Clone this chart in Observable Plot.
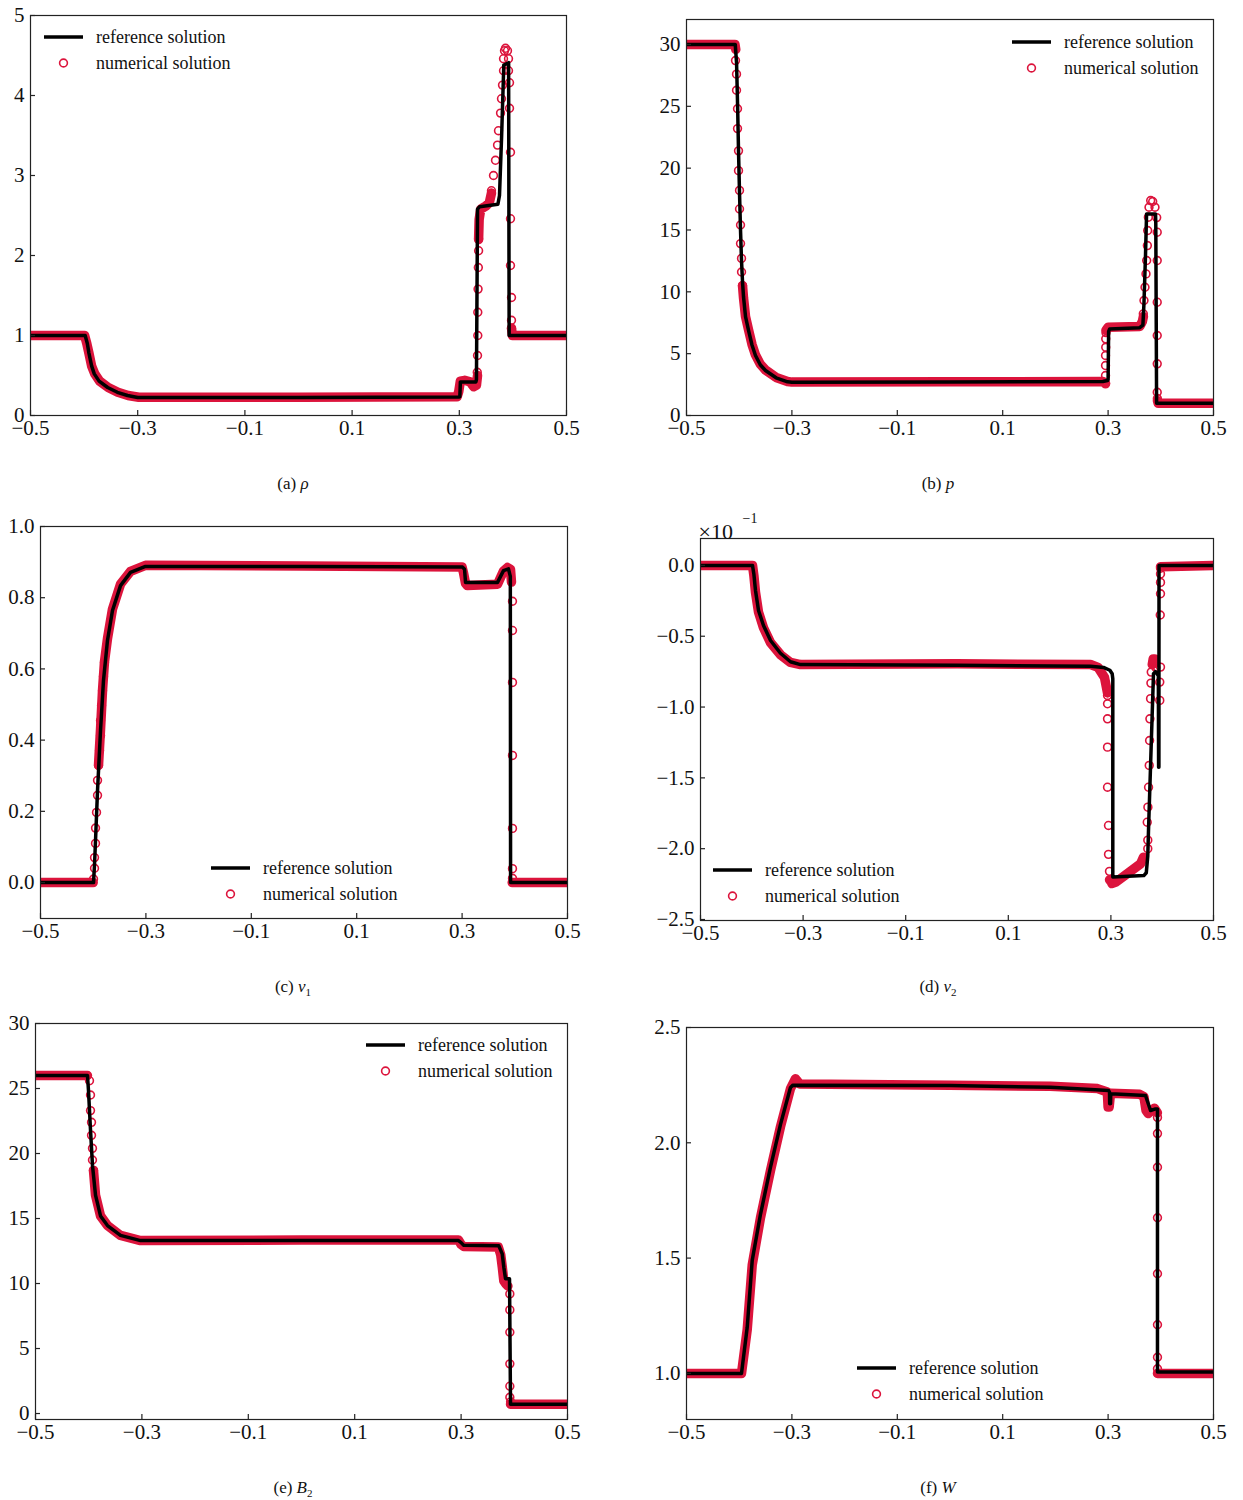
<!DOCTYPE html>
<html><head><meta charset="utf-8">
<script src="https://cdn.jsdelivr.net/npm/d3@7"></script>
<script src="https://cdn.jsdelivr.net/npm/@observablehq/plot@0.6"></script>
<style>
body{margin:0;background:#fff;font-family:"Liberation Serif","Times New Roman",serif;}
#root{position:relative;width:1243px;height:1500px;overflow:hidden;}
#root svg{position:absolute;max-width:none;}
.cap{position:absolute;font-size:17px;transform:translateX(-50%);white-space:nowrap;color:#111;line-height:1;}
.cap sub{font-size:11px;}
</style></head><body><div id="root"></div><script>
const G = NaN;
const xTicks = [-0.5,-0.3,-0.1,0.1,0.3,0.5];

// (a) density
const rhoTicks = [0,1,2,3,4,5];
const rhoRef = [[-0.5,1.0],[-0.398,1.0],[-0.394,0.9],[-0.391,0.78],[-0.386,0.62],[-0.381,0.52],[-0.372,0.43],[-0.356,0.35],[-0.338,0.29],[-0.319,0.25],[-0.300,0.225],[0.0,0.226],[0.299,0.232],[0.301,0.235],[0.302,0.42],[0.331,0.42],[0.332,0.45],[0.334,2.58],[0.338,2.61],[0.372,2.64],[0.375,2.75],[0.379,3.5],[0.383,4.38],[0.392,4.41],[0.393,1.0],[0.5,1.0]];
const rhoBand = [[-0.5,1.0],[-0.399,1.0],[-0.395,0.9],[-0.391,0.78],[-0.386,0.62],[-0.38,0.52],[-0.371,0.43],[-0.355,0.35],[-0.337,0.29],[-0.318,0.25],[-0.298,0.228],[0.0,0.228],[0.296,0.235],[0.299,0.3],[0.302,0.43],[0.31,0.44],[0.32,0.42],[0.327,0.36],[0.332,0.38],[0.334,0.5],[G,G],[0.336,2.2],[0.337,2.45],[0.340,2.58],[0.35,2.62],[0.356,2.66],[0.360,2.78],[G,G],[0.3974,1.09],[0.399,1.0],[0.5,1.0]];
const rhoDots = [[0.3335,0.54],[0.334,0.75],[0.3345,1.0],[0.3345,1.29],[0.335,1.58],[0.3355,1.85],[0.336,2.06],[0.336,2.21],[0.360,2.81],[0.3638,3.0],[0.3675,3.19],[0.3713,3.38],[0.3731,3.56],[0.3769,3.78],[0.3787,3.96],[0.3806,4.13],[0.3825,4.31],[0.3825,4.46],[0.3843,4.56],[0.3862,4.59],[0.3899,4.56],[0.3918,4.46],[0.3918,4.31],[0.3937,4.16],[0.3937,3.84],[0.3955,3.29],[0.3955,2.46],[0.3955,1.875],[0.3974,1.475],[0.3974,1.19],[0.3974,1.09]];

// (b) pressure
const pTicks = [0,5,10,15,20,25,30];
const pRef = [[-0.5,30],[-0.4075,30],[-0.405,28.5],[-0.403,25],[-0.4013,21.4],[-0.3994,18],[-0.3975,15],[-0.3956,12.5],[-0.3937,10.8],[-0.3918,9.6],[-0.388,8.0],[-0.3824,6.9],[-0.3757,5.7],[-0.3691,4.85],[-0.36,4.1],[-0.3501,3.64],[-0.33,3.05],[-0.3083,2.72],[-0.30,2.68],[0.0,2.7],[0.29,2.75],[0.299,2.83],[0.300,2.9],[0.301,6.8],[0.303,7.0],[0.36,7.1],[0.366,7.3],[0.368,9.0],[0.371,13],[0.373,16.3],[0.390,16.3],[0.3905,15.5],[0.392,1.0],[0.5,1.0]];
const pBand = [[-0.5,30],[-0.408,30],[-0.4065,29.6],[G,G],[-0.3937,10.5],[-0.3918,9.5],[-0.388,8.0],[-0.3824,6.95],[-0.3757,5.75],[-0.3691,4.9],[-0.36,4.15],[-0.3501,3.68],[-0.33,3.08],[-0.3083,2.75],[-0.30,2.7],[0.0,2.72],[0.29,2.75],[0.2951,2.6],[G,G],[0.296,6.9],[0.30,7.14],[0.36,7.2],[0.365,7.6],[0.367,8.0],[G,G],[0.3937,1.2],[0.395,1.0],[0.5,1.0]];
const pDots = [[-0.407,28.7],[-0.4051,27.6],[-0.4051,26.3],[-0.4032,24.8],[-0.4032,23.2],[-0.4013,21.4],[-0.4013,19.8],[-0.3994,18.2],[-0.3994,16.7],[-0.3975,15.4],[-0.3975,13.9],[-0.3956,12.7],[-0.3956,11.6],[-0.3937,10.5],[0.2951,2.56],[0.2951,3.23],[0.2951,4.04],[0.2951,4.85],[0.2955,5.52],[0.2955,6.2],[0.296,6.7],[0.3668,8.22],[0.3681,9.3],[0.370,10.37],[0.3719,11.45],[0.3732,12.53],[0.3745,13.74],[0.3751,14.96],[0.3764,16.03],[0.3776,16.84],[0.3808,17.38],[0.3846,17.3],[0.389,16.84],[0.3922,16.0],[0.3932,14.82],[0.3932,12.53],[0.3932,9.16],[0.3932,6.47],[0.3932,4.18],[0.3932,1.88],[0.3935,1.37]];

// (c) v1
const v1Ticks = [0.0,0.2,0.4,0.6,0.8,1.0];
const v1Ref = [[-0.5,0],[-0.3994,0],[-0.3975,0.05],[-0.3956,0.118],[-0.3918,0.258],[-0.3861,0.427],[-0.3805,0.567],[-0.3729,0.68],[-0.3634,0.764],[-0.3482,0.834],[-0.3292,0.871],[-0.3008,0.888],[0.0,0.888],[0.3008,0.886],[0.3046,0.88],[0.3065,0.843],[0.3672,0.843],[0.3786,0.876],[0.388,0.881],[0.3915,0.86],[0.392,0.0],[0.5,0.0]];
const v1Band = [[-0.5,0],[-0.40,0],[G,G],[-0.3899,0.33],[-0.3861,0.43],[-0.3823,0.54],[-0.3786,0.62],[-0.3729,0.685],[-0.3634,0.768],[-0.3482,0.838],[-0.3292,0.874],[-0.3008,0.891],[0.0,0.889],[0.30,0.886],[0.3027,0.87],[0.3065,0.84],[0.31,0.834],[0.3672,0.838],[0.3786,0.875],[0.3862,0.885],[0.3918,0.88],[0.3937,0.844],[G,G],[0.395,0],[0.5,0]];
const v1Dots = [[-0.3994,0.01],[-0.3975,0.04],[-0.3975,0.07],[-0.3956,0.11],[-0.3956,0.153],[-0.3937,0.197],[-0.3918,0.245],[-0.3918,0.287],[-0.3899,0.329],[-0.388,0.371],[-0.3861,0.413],[-0.3861,0.455],[-0.3842,0.497],[-0.3823,0.539],[-0.3805,0.579],[-0.3786,0.618],[0.3956,0.79],[0.3956,0.708],[0.3956,0.562],[0.3956,0.357],[0.3956,0.152],[0.3956,0.039],[0.3956,0.012]];

// (d) v2 (x 10^-1)
const v2Ticks = [-2.5,-2.0,-1.5,-1.0,-0.5,0.0];
const v2Ref = [[-0.5,0],[-0.3986,0],[-0.396,-0.06],[-0.3928,-0.177],[-0.3869,-0.318],[-0.3772,-0.424],[-0.3635,-0.53],[-0.3441,-0.62],[-0.3246,-0.68],[-0.3051,-0.70],[0.0,-0.705],[0.2602,-0.712],[0.2856,-0.72],[0.298,-0.74],[0.3025,-0.765],[0.3037,-0.8],[0.3037,-2.20],[0.3642,-2.19],[0.369,-2.17],[0.3719,-2.05],[0.3733,-1.87],[0.3830,-0.765],[0.3869,-0.75],[0.3925,-0.78],[0.3930,-1.425],[0.3936,-1.425],[0.3938,0.0],[0.5,0.0]];
const v2Band = [[-0.5,0],[-0.3986,0],[-0.396,-0.07],[-0.3928,-0.19],[-0.3869,-0.33],[-0.3772,-0.44],[-0.3635,-0.545],[-0.3441,-0.63],[-0.3246,-0.685],[-0.3051,-0.70],[0.0,-0.695],[0.2602,-0.70],[0.275,-0.72],[0.2875,-0.79],[0.2934,-0.9],[G,G],[0.2992,-2.22],[0.302,-2.245],[0.31,-2.235],[0.3577,-2.107],[0.3635,-2.06],[G,G],[0.3806,-0.70],[0.3825,-0.66],[0.3855,-0.66],[0.387,-0.69],[G,G],[0.3967,-0.01],[0.5,0.0]];
const v2Dots = [[0.2934,-0.918],[0.2934,-0.977],[0.2934,-1.083],[0.2934,-1.283],[0.2934,-1.566],[0.2953,-1.836],[0.2953,-2.04],[0.2972,-2.16],[0.2972,-2.22],[0.3719,-2.0],[0.3719,-1.94],[0.3708,-1.813],[0.3721,-1.707],[0.3734,-1.566],[0.3747,-1.412],[0.3754,-1.236],[0.3760,-1.083],[0.3773,-0.941],[0.3780,-0.831],[0.3786,-0.753],[0.3875,-0.72],[0.3967,-0.02],[0.3967,-0.06],[0.3967,-0.12],[0.3967,-0.2],[0.3962,-0.35],[0.3967,-0.718],[0.3953,-0.824],[0.3953,-0.953]];

// (e) B2
const bTicks = [0,5,10,15,20,25,30];
const bRef = [[-0.5,26],[-0.4023,26],[-0.4004,24.85],[-0.3966,21.8],[-0.3929,19.1],[-0.3872,16.8],[-0.3778,15.2],[-0.3647,14.46],[-0.3402,13.7],[-0.3026,13.3],[0.0,13.3],[0.2951,13.3],[0.3,13.15],[0.3045,12.95],[0.3709,12.9],[0.3773,12.28],[0.3803,11.25],[0.3835,10.36],[0.3910,10.36],[0.3929,0.72],[0.5,0.72]];
const bBand = [[-0.5,26],[-0.4023,26],[G,G],[-0.391,18.7],[-0.3872,16.8],[-0.3778,15.2],[-0.3647,14.46],[-0.3402,13.7],[-0.3026,13.3],[0.0,13.35],[0.295,13.35],[0.300,13.0],[0.305,12.85],[0.37,12.8],[0.3745,12.2],[0.3773,11.3],[0.3803,10.2],[0.3835,10.0],[0.388,9.8],[G,G],[0.3929,0.72],[0.5,0.72]];
const bDots = [[-0.3985,25.6],[-0.3966,24.5],[-0.3966,23.3],[-0.3947,22.4],[-0.3947,21.4],[-0.3929,20.4],[-0.3929,19.5],[-0.391,18.7],[0.3916,9.2],[0.3916,7.97],[0.3916,6.25],[0.3916,3.82],[0.3916,2.1],[0.3916,1.25],[0.393,0.9]];

// (f) W
const wTicks = [1.0,1.5,2.0,2.5];
const wRef = [[-0.5,1.0],[-0.3956,1.0],[-0.3848,1.20],[-0.3753,1.49],[-0.3596,1.69],[-0.3406,1.894],[-0.3216,2.08],[-0.3027,2.24],[-0.298,2.25],[0.0,2.248],[0.1907,2.241],[0.3008,2.227],[0.3027,2.22],[0.3030,2.169],[0.3046,2.17],[0.3050,2.213],[0.3710,2.205],[0.3805,2.14],[0.3900,2.147],[0.3937,2.147],[0.3937,1.006],[0.5,1.006]];
const wBand = [[-0.5,1.0],[-0.3956,1.0],[-0.3848,1.19],[-0.3753,1.47],[-0.3596,1.675],[-0.3406,1.88],[-0.3216,2.07],[-0.3027,2.235],[-0.2932,2.278],[-0.285,2.255],[0.0,2.25],[0.19,2.245],[0.28,2.235],[0.2985,2.22],[0.3,2.155],[0.302,2.155],[0.3046,2.215],[0.36,2.21],[0.368,2.2],[0.372,2.14],[0.376,2.127],[0.388,2.15],[0.3935,2.13],[G,G],[0.3937,1.0],[0.5,1.0]];
const wDots = [[0.3937,2.11],[0.3937,2.04],[0.3937,1.894],[0.3937,1.675],[0.3937,1.432],[0.3937,1.211],[0.3937,1.07],[0.3937,1.02]];

const RED = "#DC143C";
const fmt1 = d3.format(".1f"), fmt0 = d3.format("d");
const panels = [
  {ref:rhoRef, band:rhoBand, dots:rhoDots, yDomain:[0,5], yTicks:rhoTicks, yFmt:fmt0, frame:[30,15,566,415], legend:[44,37], cap:[293,'(a) <i>ρ</i>']},
  {ref:pRef, band:pBand, dots:pDots, yDomain:[0,32.02], yTicks:pTicks, yFmt:fmt0, frame:[686,19,1213,415], legend:[1012,42], cap:[938,'(b) <i>p</i>']},
  {ref:v1Ref, band:v1Band, dots:v1Dots, yDomain:[-0.101,1.0], yTicks:v1Ticks, yFmt:fmt1, frame:[40,526,567,918], legend:[211,868], cap:[293,'(c) <i>v</i><sub>1</sub>']},
  {ref:v2Ref, band:v2Band, dots:v2Dots, yDomain:[-2.507,0.19], yTicks:v2Ticks, yFmt:fmt1, frame:[700,538,1213,920], legend:[713,870], cap:[938,'(d) <i>v</i><sub>2</sub>'], mult:true},
  {ref:bRef, band:bBand, dots:bDots, yDomain:[-0.46,30], yTicks:bTicks, yFmt:fmt0, frame:[35,1023,567,1419], legend:[366,1045], cap:[293,'(e) <i>B</i><sub>2</sub>']},
  {ref:wRef, band:wBand, dots:wDots, yDomain:[0.80,2.5], yTicks:wTicks, yFmt:fmt1, frame:[686,1027,1213,1419], legend:[857,1368], cap:[938,'(f) <i>W</i>']}
];
const capY = [484,484,987,987,1488,1488];

const ML=70, MT=40, MR=30, MB=50;
const root = document.getElementById("root");
const X = d => d[0], Y = d => d[1];
panels.forEach((p, i) => {
  const [fl, ft, fr, fb] = p.frame;
  const iw = fr - fl, ih = fb - ft;
  const marks = [
    Plot.line(p.band, {x:X, y:Y, stroke:RED, strokeWidth:9.5, strokeLinecap:"round", strokeLinejoin:"round", clip:true}),
    Plot.dot(p.dots, {x:X, y:Y, r:3.9, stroke:RED, strokeWidth:1.6, fill:"none"}),
    Plot.line(p.ref, {x:X, y:Y, stroke:"black", strokeWidth:3.5, strokeLinejoin:"round", clip:true}),
    Plot.frame({stroke:"#222", strokeWidth:1.2}),
    Plot.tickX(xTicks, {x:d=>d, insetTop:ih-5, stroke:"#222", strokeWidth:1.2}),
    Plot.tickY(p.yTicks, {y:d=>d, insetRight:iw-5, stroke:"#222", strokeWidth:1.2}),
    Plot.axisX({ticks:xTicks, tickSize:0, tickPadding:5, tickFormat:fmt1}),
    Plot.axisY({ticks:p.yTicks, tickSize:0, tickPadding:6, tickFormat:p.yFmt})
  ];
  if (p.mult) {
    marks.push(Plot.text(["×10"], {frameAnchor:"top-left", text:d=>d, textAnchor:"start", dx:-2, dy:-15, fontSize:22}));
    marks.push(Plot.text(["−1"], {frameAnchor:"top-left", text:d=>d, textAnchor:"start", dx:42, dy:-25, fontSize:14}));
  }
  const svg = Plot.plot({
    width: iw+ML+MR, height: ih+MT+MB,
    marginLeft:ML, marginTop:MT, marginRight:MR, marginBottom:MB,
    x:{domain:[-0.5,0.5], label:null},
    y:{domain:p.yDomain, label:null},
    style:{background:"transparent", fontFamily:"'Liberation Serif','Times New Roman',serif", fontSize:"21px", color:"#111", overflow:"visible"},
    marks
  });
  const sx = fl - ML, sy = ft - MT;
  svg.style.left = sx + "px";
  svg.style.top = sy + "px";
  // legend
  const [lx, ly] = p.legend;
  const g = d3.select(svg).append("g").attr("transform", `translate(${lx-sx},${ly-sy})`)
    .attr("font-family","'Liberation Serif','Times New Roman',serif").attr("font-size",18).attr("fill","#111").attr("text-anchor","start");
  g.append("line").attr("x1",0).attr("x2",39).attr("y1",0).attr("y2",0).attr("stroke","black").attr("stroke-width",3.5);
  g.append("circle").attr("cx",19.5).attr("cy",26).attr("r",3.9).attr("fill","none").attr("stroke",RED).attr("stroke-width",1.6);
  g.append("text").attr("x",52).attr("y",0).attr("dy","0.32em").attr("text-anchor","start").text("reference solution");
  g.append("text").attr("x",52).attr("y",26).attr("dy","0.32em").attr("text-anchor","start").text("numerical solution");
  root.appendChild(svg);
  const cap = document.createElement("div");
  cap.className = "cap";
  cap.style.left = p.cap[0] + "px";
  cap.style.top = (capY[i] - 9) + "px";
  cap.innerHTML = p.cap[1];
  root.appendChild(cap);
});
</script></body></html>
